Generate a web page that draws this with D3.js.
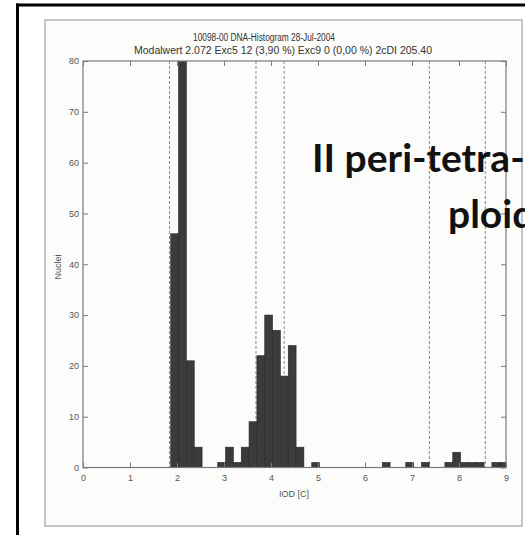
<!DOCTYPE html>
<html>
<head>
<meta charset="utf-8">
<script src="https://cdn.jsdelivr.net/npm/d3@7"></script>
<style>
	html, body { margin: 0; padding: 0; background: #ffffff; }
	svg { display: block; }
</style>
</head>
<body>
<div id="chart"></div>
<script>
/**********************************************************/
/*	Data				  */
/**********************************************************/

// Histogram bins: left edge in IOD [C], count of nuclei
var binStarts =	[1.867, 2.033, 2.2, 2.367, 2.867, 3.033, 3.2, 3.367, 3.533, 3.7, 3.867, 4.033, 4.2, 4.367, 4.533, 4.867, 6.367, 6.867, 7.2, 7.7, 7.867, 8.033, 8.2, 8.367, 8.7, 8.867];
var binCounts =	[46, 95, 21, 4, 1, 4, 1, 4, 9, 22, 30, 27, 18, 24, 4, 1, 1, 1, 1, 1, 3, 1, 1, 1, 1, 1];
var binWidth = 0.1667;

// Dashed reference lines (IOD [C])
var guideLines = [1.84, 3.68, 4.28, 7.37, 8.56];

// Ticks
var xTicks = [0, 1, 2, 3, 4, 5, 6, 7, 8, 9];
var yTicks = [0, 10, 20, 30, 40, 50, 60, 70, 80];

// Texts
var titleLines = [
	"10098-00 DNA-Histogram 28-Jul-2004",
	"Modalwert 2.072 Exc5 12 (3,90 %) Exc9 0 (0,00 %) 2cDI 205.40"
];
var xTitle = "IOD [C]";
var yTitle = "Nuclei";
var overlayLines = ["II peri-tetra-", "ploid"];

/**********************************************************/
/*	Layout												  */
/**********************************************************/

var W = 525, H = 535;
var plot = { left: 83, right: 506, top: 61, bottom: 467.5 };
var tickLen = 5;

var svg = d3.select("#chart").append("svg")
	.attr("width", W)
	.attr("height", H);

// Scanned paper + black frame
svg.append("rect")
	.attr("x", 45).attr("y", 20)
	.attr("width", 477).attr("height", 506)
	.style("fill", "#fcfcfa")
	.style("stroke", "#b4b4b4")
	.style("stroke-width", 1.5);
svg.append("line")
	.attr("x1", 16).attr("x2", W).attr("y1", 5).attr("y2", 5)
	.style("stroke", "#000").style("stroke-width", 3);
svg.append("line")
	.attr("x1", 17.5).attr("x2", 17.5).attr("y1", 3.5).attr("y2", H)
	.style("stroke", "#000").style("stroke-width", 3);

// Scales
var x = d3.scaleLinear().domain([0, 9]).range([plot.left, plot.right]);
var y = d3.scaleLinear().domain([0, 80]).range([plot.bottom, plot.top]);

svg.append("clipPath").attr("id", "plotClip")
	.append("rect")
	.attr("x", plot.left).attr("y", plot.top)
	.attr("width", plot.right - plot.left)
	.attr("height", plot.bottom - plot.top);

var inner = svg.append("g").attr("clip-path", "url(#plotClip)");

// Dashed guides (behind the bars)
inner.selectAll("line.guide")
	.data(guideLines)
	.enter().append("line")
	.attr("class", "guide")
	.attr("x1", function(d) { return x(d); })
	.attr("x2", function(d) { return x(d); })
	.attr("y1", y(80)).attr("y2", y(0))
	.style("stroke", "#8a8a8a")
	.style("stroke-width", 1)
	.style("stroke-dasharray", "3,2");

// Bars
var bins = binStarts.map(function(s, i) { return { x0: s, x1: s + binWidth, n: binCounts[i] }; });
inner.selectAll("rect.bar")
	.data(bins)
	.enter().append("rect")
	.attr("class", "bar")
	.attr("x", function(d) { return x(d.x0); })
	.attr("width", function(d) { return x(d.x1) - x(d.x0); })
	.attr("y", function(d) { return y(d.n); })
	.attr("height", function(d) { return y(0) - y(d.n); })
	.style("fill", "#3b3b3b")
	.style("stroke", "#262626")
	.style("stroke-width", 0.6);

// Axis box
svg.append("rect")
	.attr("x", plot.left).attr("y", plot.top)
	.attr("width", plot.right - plot.left)
	.attr("height", plot.bottom - plot.top)
	.style("fill", "none")
	.style("stroke", "#7a7a7a")
	.style("stroke-width", 1.2);

// Axes (ticks inward, all four sides)
function styleAxis(g) {
	g.select(".domain").remove();
	g.selectAll("line").style("stroke", "#7a7a7a");
	g.selectAll("text")
		.style("font-family", "'Liberation Sans', Arial, sans-serif")
		.style("font-size", "9px")
		.style("fill", "#555");
}
svg.append("g")
	.attr("transform", "translate(0," + plot.bottom + ")")
	.call(d3.axisBottom(x).tickValues(xTicks).tickSizeInner(-tickLen).tickSizeOuter(0).tickPadding(7))
	.call(styleAxis);
svg.append("g")
	.attr("transform", "translate(0," + plot.top + ")")
	.call(d3.axisTop(x).tickValues(xTicks).tickSizeInner(-tickLen).tickSizeOuter(0).tickFormat(""))
	.call(styleAxis);
svg.append("g")
	.attr("transform", "translate(" + plot.left + ",0)")
	.call(d3.axisLeft(y).tickValues(yTicks).tickSizeInner(-tickLen).tickSizeOuter(0).tickPadding(4))
	.call(styleAxis);
svg.append("g")
	.attr("transform", "translate(" + plot.right + ",0)")
	.call(d3.axisRight(y).tickValues(yTicks).tickSizeInner(-tickLen).tickSizeOuter(0).tickFormat(""))
	.call(styleAxis);

// Titles
var titleFont = "'Liberation Sans', Arial, sans-serif";
var titlePos = [ { cx: 264, y: 41, len: 142 }, { cx: 283, y: 54, len: 298 } ];
titleLines.forEach(function(t, i) {
	svg.append("text")
		.attr("x", titlePos[i].cx).attr("y", titlePos[i].y)
		.attr("text-anchor", "middle")
		.attr("textLength", titlePos[i].len)
		.attr("lengthAdjust", "spacingAndGlyphs")
		.style("font-family", titleFont)
		.style("font-size", "10px")
		.style("fill", "#333")
		.text(t);
});

svg.append("text")
	.attr("x", 294).attr("y", 497)
	.attr("text-anchor", "middle")
	.style("font-family", titleFont)
	.style("font-size", "9px")
	.style("fill", "#555")
	.text(xTitle);

svg.append("text")
	.attr("transform", "translate(61,267) rotate(-90)")
	.attr("text-anchor", "middle")
	.style("font-family", titleFont)
	.style("font-size", "9px")
	.style("fill", "#555")
	.text(yTitle);

// Overlay annotation
var overlayPos = [ { x: 312, y: 172 }, { x: 448, y: 228 } ];
overlayLines.forEach(function(t, i) {
	svg.append("text")
		.attr("x", overlayPos[i].x).attr("y", overlayPos[i].y)
		.style("font-family", "Lato, 'Noto Sans', sans-serif")
		.style("font-weight", "bold")
		.style("font-size", "39px")
		.style("fill", "#111")
		.text(t);
});
</script>
</body>
</html>
